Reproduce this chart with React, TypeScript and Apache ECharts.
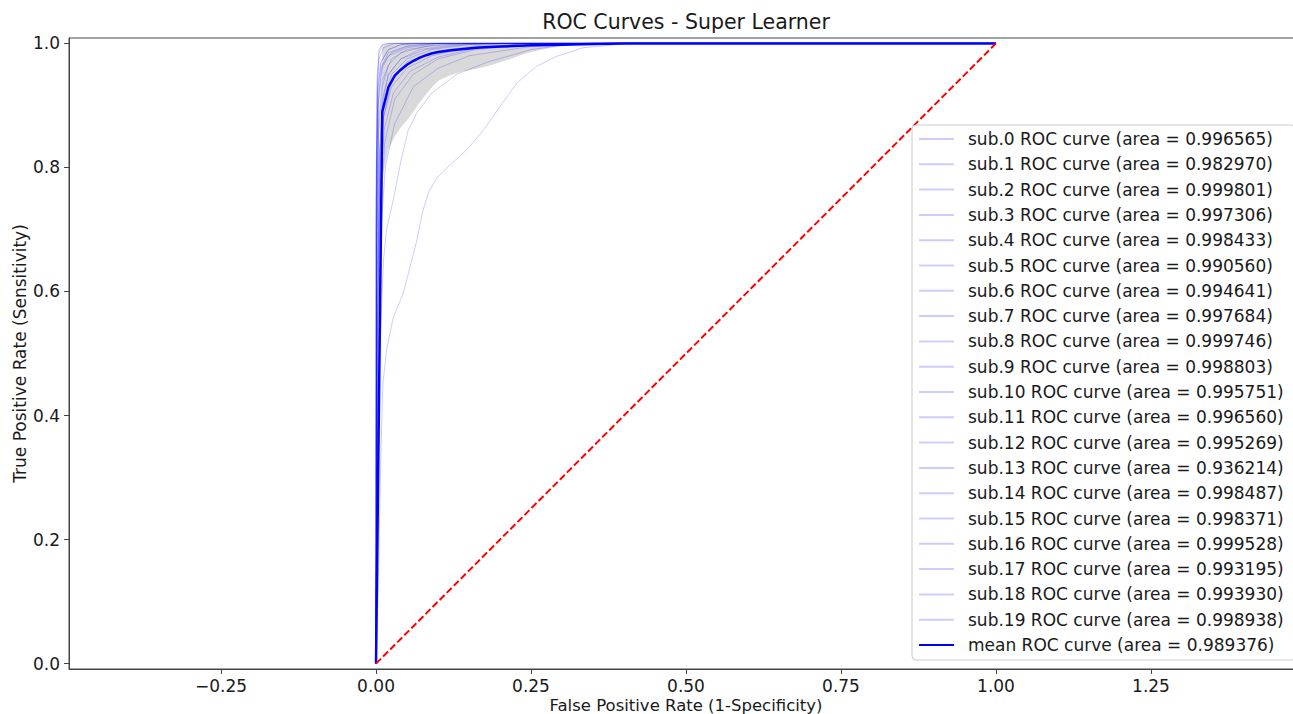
import React, { useEffect, useRef } from "react";
import * as echarts from "echarts";

const FONT = "DejaVu Sans";

const xTickValues = [-0.25, 0, 0.25, 0.5, 0.75, 1.0, 1.25];
const yTickValues = [0, 0.2, 0.4, 0.6, 0.8, 1.0];

const subAuc = [
  0.996565, 0.98297, 0.999801, 0.997306, 0.998433, 0.99056, 0.994641, 0.997684, 0.999746, 0.998803,
  0.995751, 0.99656, 0.995269, 0.936214, 0.998487, 0.998371, 0.999528, 0.993195, 0.99393, 0.998938,
];
const meanAuc = 0.989376;

const subRocPoints: number[][][] = [
  [[0, 0], [0.002, 0.5], [0.005, 0.8], [0.01, 0.9], [0.02, 0.95], [0.04, 0.975], [0.07, 0.99], [0.12, 0.997], [0.2, 1], [1, 1]],
  [[0, 0], [0.003, 0.3], [0.006, 0.5], [0.012, 0.65], [0.017, 0.7], [0.029, 0.753], [0.04, 0.81], [0.052, 0.86], [0.066, 0.888], [0.09, 0.92], [0.13, 0.95], [0.18, 0.97], [0.25, 0.99], [0.32, 1], [1, 1]],
  [[0, 0], [0, 0.7], [0.002, 0.95], [0.005, 0.99], [0.01, 0.998], [0.02, 1], [1, 1]],
  [[0, 0], [0.001, 0.6], [0.004, 0.85], [0.01, 0.93], [0.02, 0.965], [0.04, 0.985], [0.08, 0.995], [0.15, 1], [1, 1]],
  [[0, 0], [0.001, 0.7], [0.004, 0.9], [0.01, 0.96], [0.02, 0.98], [0.05, 0.993], [0.1, 1], [1, 1]],
  [[0, 0], [0.003, 0.4], [0.008, 0.7], [0.015, 0.8], [0.03, 0.87], [0.06, 0.93], [0.1, 0.96], [0.15, 0.98], [0.25, 0.995], [0.35, 1], [1, 1]],
  [[0, 0], [0.002, 0.5], [0.006, 0.8], [0.012, 0.88], [0.025, 0.93], [0.05, 0.96], [0.09, 0.98], [0.15, 0.993], [0.25, 1], [1, 1]],
  [[0, 0], [0.001, 0.6], [0.004, 0.87], [0.01, 0.94], [0.025, 0.975], [0.05, 0.99], [0.1, 0.998], [0.15, 1], [1, 1]],
  [[0, 0], [0, 0.75], [0.002, 0.94], [0.005, 0.985], [0.01, 0.997], [0.02, 1], [1, 1]],
  [[0, 0], [0.001, 0.8], [0.003, 0.92], [0.008, 0.97], [0.02, 0.99], [0.04, 0.998], [0.07, 1], [1, 1]],
  [[0, 0], [0.002, 0.55], [0.006, 0.82], [0.012, 0.9], [0.025, 0.95], [0.05, 0.975], [0.09, 0.99], [0.15, 0.998], [0.2, 1], [1, 1]],
  [[0, 0], [0.001, 0.5], [0.004, 0.8], [0.01, 0.91], [0.02, 0.95], [0.04, 0.975], [0.08, 0.99], [0.14, 0.998], [0.2, 1], [1, 1]],
  [[0, 0], [0.002, 0.45], [0.006, 0.78], [0.012, 0.88], [0.025, 0.94], [0.05, 0.97], [0.1, 0.988], [0.17, 0.997], [0.22, 1], [1, 1]],
  [[0, 0], [0.003, 0.1], [0.006, 0.25], [0.009, 0.38], [0.011, 0.45], [0.017, 0.506], [0.028, 0.559], [0.044, 0.597], [0.055, 0.64], [0.066, 0.683], [0.075, 0.728], [0.085, 0.76], [0.098, 0.783], [0.119, 0.804], [0.146, 0.828], [0.173, 0.86], [0.2, 0.898], [0.227, 0.936], [0.259, 0.963], [0.291, 0.979], [0.334, 0.993], [0.388, 0.998], [0.42, 1], [1, 1]],
  [[0, 0], [0.001, 0.75], [0.003, 0.9], [0.008, 0.96], [0.02, 0.985], [0.05, 0.996], [0.09, 1], [1, 1]],
  [[0, 0], [0.001, 0.7], [0.004, 0.91], [0.01, 0.965], [0.025, 0.985], [0.05, 0.995], [0.1, 1], [1, 1]],
  [[0, 0], [0, 0.7], [0.002, 0.92], [0.005, 0.975], [0.012, 0.993], [0.03, 1], [1, 1]],
  [[0, 0], [0.003, 0.45], [0.007, 0.72], [0.014, 0.84], [0.03, 0.91], [0.06, 0.95], [0.1, 0.975], [0.16, 0.99], [0.25, 0.998], [0.3, 1], [1, 1]],
  [[0, 0], [0.002, 0.5], [0.006, 0.75], [0.013, 0.86], [0.028, 0.92], [0.055, 0.955], [0.1, 0.978], [0.16, 0.992], [0.24, 1], [1, 1]],
  [[0, 0], [0.001, 0.8], [0.003, 0.93], [0.008, 0.97], [0.02, 0.99], [0.04, 0.998], [0.06, 1], [1, 1]],
];

const meanFpr = [0, 0.0101, 0.0202, 0.0303, 0.0404, 0.0505, 0.0606, 0.0707, 0.0808, 0.0909, 0.101, 0.121, 0.141, 0.162, 0.182, 0.202, 0.25, 0.3, 0.35, 0.4, 1];
const meanTpr = [0, 0.89, 0.93, 0.948, 0.958, 0.966, 0.972, 0.977, 0.981, 0.984, 0.986, 0.989, 0.991, 0.993, 0.994, 0.995, 0.997, 0.998, 0.999, 1, 1];

const bandFpr = [0, 0.0101, 0.0202, 0.0303, 0.0404, 0.0505, 0.0606, 0.0707, 0.0808, 0.0909, 0.101, 0.121, 0.141, 0.162, 0.182, 0.202, 0.222, 0.242, 0.263, 0.283, 0.303, 0.323, 0.343, 0.364, 0.4, 1];
const bandLower = [0, 0.785, 0.83, 0.85, 0.865, 0.877, 0.89, 0.905, 0.918, 0.93, 0.94, 0.949, 0.955, 0.959, 0.964, 0.97, 0.977, 0.984, 0.989, 0.993, 0.996, 0.998, 0.999, 1, 1, 1];
const bandUpper = [0, 0.995, 1, 1, 1, 1, 1, 1, 1, 1, 1, 1, 1, 1, 1, 1, 1, 1, 1, 1, 1, 1, 1, 1, 1, 1];

const chancePoints = [[0, 0], [1, 1]];

const fmtX = (v: number) => (v < 0 ? "\u2212" + (-v).toFixed(2) : v.toFixed(2));
const fmtY = (v: number) => (v < 0 ? "\u2212" + (-v).toFixed(1) : v.toFixed(1));

export default function App() {
  const ref = useRef<HTMLDivElement>(null);
  useEffect(() => {
    document.body.style.margin = "0";
    document.body.style.overflow = "hidden";
    const chart = echarts.init(ref.current!, null, { renderer: "svg" });
    const subNames = subAuc.map((a, i) => `sub.${i} ROC curve (area = ${a.toFixed(6)})`);
    const meanName = `mean ROC curve (area = ${meanAuc.toFixed(6)})`;
    const textColor = "#1a1a1a";
    const axisColor = "#444444";

    const subSeries = subRocPoints.map((pts, i) => ({
      name: subNames[i],
      type: "line",
      data: pts,
      symbol: "none",
      showSymbol: false,
      lineStyle: { color: "rgba(0,0,255,0.2)", width: 1 },
      itemStyle: { color: "rgba(0,0,255,0.2)" },
      silent: true,
      z: 2,
    }));

    const option: any = {
      animation: false,
      title: {
        text: "ROC Curves - Super Learner",
        left: 686,
        top: 11,
        textAlign: "center",
        padding: 0,
        textStyle: { fontSize: 20.5, fontWeight: "normal", fontFamily: FONT, color: textColor },
      },
      grid: {
        left: 69,
        right: -10,
        top: 38,
        bottom: 45,
        outerBoundsMode: "none",
        containLabel: false,
        show: true,
        borderColor: axisColor,
        borderWidth: 1,
        backgroundColor: "transparent",
      },
      legend: {
        orient: "vertical",
        left: 912,
        top: 125,
        padding: [4, 11, 5, 6],
        itemWidth: 35,
        itemHeight: 20,
        itemGap: 5.3,
        backgroundColor: "rgba(255,255,255,0.8)",
        borderColor: "#cccccc",
        borderWidth: 1,
        borderRadius: 4,
        selectedMode: false,
        itemStyle: { opacity: 0 },
        textStyle: { fontSize: 17, fontFamily: FONT, color: textColor, lineHeight: 20, padding: [0, 0, 0, 9] },
        data: [...subNames, meanName],
      },
      xAxis: {
        type: "value",
        min: -0.4952,
        max: 1.4952,
        name: "False Positive Rate (1-Specificity)",
        nameLocation: "middle",
        nameGap: 28,
        nameMoveOverlap: false,
        nameTextStyle: { fontSize: 16.5, fontFamily: FONT, color: textColor },
        axisLine: { show: true, onZero: false, lineStyle: { color: axisColor, width: 1 } },
        axisTick: { show: true, length: 5, customValues: xTickValues, lineStyle: { color: axisColor } },
        axisLabel: { customValues: xTickValues, formatter: fmtX, fontSize: 17, fontFamily: FONT, color: textColor, margin: 8 },
        splitLine: { show: false },
      },
      yAxis: {
        type: "value",
        min: -0.0087,
        max: 1.0087,
        name: "True Positive Rate (Sensitivity)",
        nameLocation: "middle",
        nameGap: 41,
        nameMoveOverlap: false,
        nameRotate: 90,
        nameTextStyle: { fontSize: 17, fontFamily: FONT, color: textColor },
        axisLine: { show: true, onZero: false, lineStyle: { color: axisColor, width: 1 } },
        axisTick: { show: true, length: 5, customValues: yTickValues, lineStyle: { color: axisColor } },
        axisLabel: { customValues: yTickValues, formatter: fmtY, fontSize: 17, fontFamily: FONT, color: textColor, margin: 9 },
        splitLine: { show: false },
      },
      series: [
        ...subSeries,
        {
          name: "band",
          type: "custom",
          coordinateSystem: "cartesian2d",
          silent: true,
          clip: true,
          z: 2,
          data: [[0, 0]],
          renderItem: (params: any, api: any) => {
            const pts: number[][] = [];
            for (let i = 0; i < bandFpr.length; i++) pts.push(api.coord([bandFpr[i], bandUpper[i]]));
            for (let i = bandFpr.length - 1; i >= 0; i--) pts.push(api.coord([bandFpr[i], bandLower[i]]));
            return { type: "polygon", shape: { points: pts }, style: { fill: "rgba(128,128,128,0.3)", stroke: "none" } };
          },
        },
        {
          name: meanName,
          type: "line",
          data: meanFpr.map((f, i) => [f, meanTpr[i]]),
          symbol: "none",
          showSymbol: false,
          lineStyle: { color: "#0000ff", width: 2.5 },
          itemStyle: { color: "#0000ff" },
          silent: true,
          z: 3,
        },
        {
          name: "chance",
          type: "line",
          data: chancePoints,
          symbol: "none",
          showSymbol: false,
          lineStyle: { color: "#ff0000", width: 2, type: [7, 3] },
          itemStyle: { color: "#ff0000" },
          silent: true,
          z: 3,
        },
      ],
    };
    chart.setOption(option);
    return () => chart.dispose();
  }, []);
  return <div ref={ref} style={{ width: 1293, height: 714 }} />;
}
